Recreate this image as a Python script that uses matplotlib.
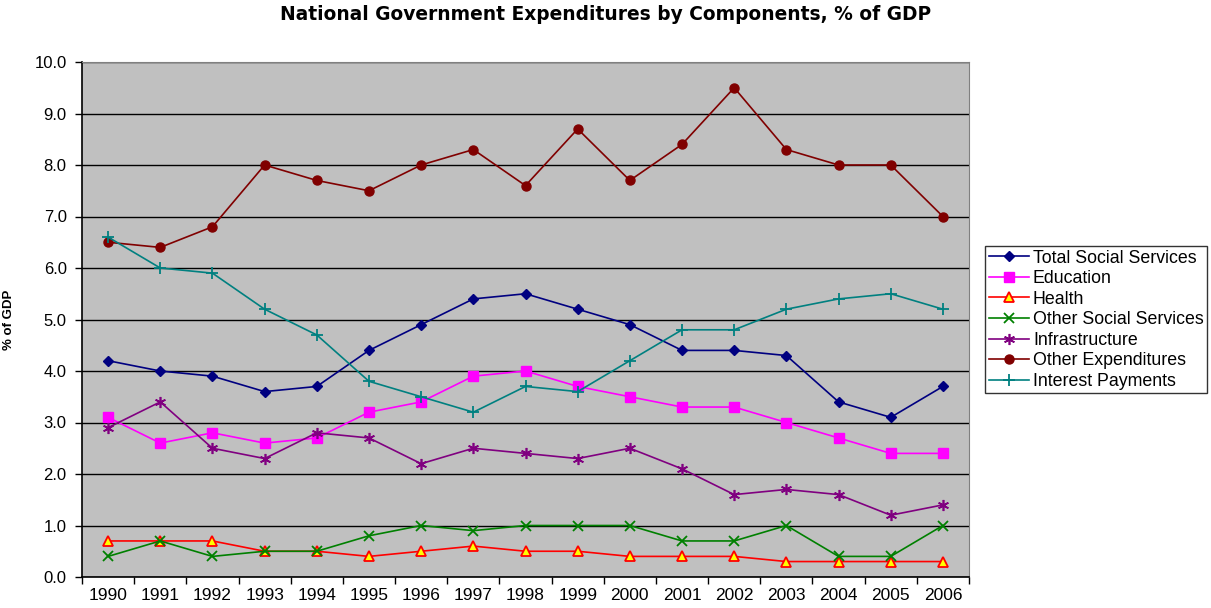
import matplotlib.pyplot as plt
import numpy as np

plt.rcParams['font.family'] = ['Liberation Sans', 'DejaVu Sans']

years = [str(y) for y in range(1990, 2007)]

total_social = [4.2, 4.0, 3.9, 3.6, 3.7, 4.4, 4.9, 5.4, 5.5, 5.2, 4.9, 4.4, 4.4, 4.3, 3.4, 3.1, 3.7]
education = [3.1, 2.6, 2.8, 2.6, 2.7, 3.2, 3.4, 3.9, 4.0, 3.7, 3.5, 3.3, 3.3, 3.0, 2.7, 2.4, 2.4]
health = [0.7, 0.7, 0.7, 0.5, 0.5, 0.4, 0.5, 0.6, 0.5, 0.5, 0.4, 0.4, 0.4, 0.3, 0.3, 0.3, 0.3]
other_social = [0.4, 0.7, 0.4, 0.5, 0.5, 0.8, 1.0, 0.9, 1.0, 1.0, 1.0, 0.7, 0.7, 1.0, 0.4, 0.4, 1.0]
infrastructure = [2.9, 3.4, 2.5, 2.3, 2.8, 2.7, 2.2, 2.5, 2.4, 2.3, 2.5, 2.1, 1.6, 1.7, 1.6, 1.2, 1.4]
other_exp = [6.5, 6.4, 6.8, 8.0, 7.7, 7.5, 8.0, 8.3, 7.6, 8.7, 7.7, 8.4, 9.5, 8.3, 8.0, 8.0, 7.0]
interest = [6.6, 6.0, 5.9, 5.2, 4.7, 3.8, 3.5, 3.2, 3.7, 3.6, 4.2, 4.8, 4.8, 5.2, 5.4, 5.5, 5.2]

x = np.arange(len(years))

fig = plt.figure(figsize=(12.11, 6.08), dpi=100, facecolor='w')
ax = fig.add_axes([82 / 1211, 1 - 577 / 608, 887 / 1211, 515 / 608])
ax.set_facecolor('#C0C0C0')

ax.plot(x, total_social, color='#000080', marker='D', ms=5, lw=1.2, label='Total Social Services')
ax.plot(x, education, color='#FF00FF', marker='s', ms=7, lw=1.2, label='Education')
ax.plot(x, health, color='#FF0000', marker='^', ms=7, mfc='#FFFF00', mec='#FF0000', mew=1.3,
        lw=1.2, label='Health')
ax.plot(x, other_social, color='#008000', marker='x', ms=7, mew=1.3, lw=1.2, label='Other Social Services')
ax.plot(x, infrastructure, color='#800080', marker=(6, 2, 0), ms=8, mew=1.2, lw=1.2, label='Infrastructure')
ax.plot(x, other_exp, color='#800000', marker='o', ms=6.5, lw=1.2, label='Other Expenditures')
ax.plot(x, interest, color='#008080', marker='+', ms=8, mew=1.3, lw=1.2, label='Interest Payments')

ax.set_xlim(-0.5, len(years) - 0.5)
ax.set_ylim(0, 10)
ax.set_yticks(np.arange(0, 10.01, 1.0))
ax.set_yticklabels(['%.1f' % v for v in np.arange(0, 10.01, 1.0)], fontsize=12)
ax.yaxis.grid(True, color='black', lw=1)
ax.set_axisbelow(True)

ax.set_xticks(x)
ax.set_xticklabels(years, fontsize=12.5)
ax.set_xticks(np.arange(-0.5, len(years), 1.0), minor=True)
ax.tick_params(axis='x', which='major', length=0, pad=8)
ax.tick_params(axis='x', which='minor', length=5, width=1, direction='out')
ax.tick_params(axis='y', length=5, width=1, direction='out', pad=6)

for s in ['top', 'right']:
    ax.spines[s].set_color('#808080')
for s in ['left', 'bottom']:
    ax.spines[s].set_color('black')
    ax.spines[s].set_linewidth(1.2)

ax.set_ylabel('% of GDP', fontsize=9.5, fontweight='bold', labelpad=14)

fig.text(0.5, 1 - 14 / 608, 'National Government Expenditures by Components, % of GDP',
         fontsize=13.4, fontweight='bold', family='DejaVu Sans', ha='center', va='center')

leg = ax.legend(loc='upper left', bbox_to_anchor=(985 / 887 - 82 / 887, 1 - (246 - 62) / 515),
                fontsize=12.8, frameon=True, fancybox=False, edgecolor='black',
                borderpad=0.2, labelspacing=0.2, handlelength=2.3, handletextpad=0.2,
                borderaxespad=0)
leg.get_frame().set_linewidth(1)

fig.savefig('out.png', dpi=100)
